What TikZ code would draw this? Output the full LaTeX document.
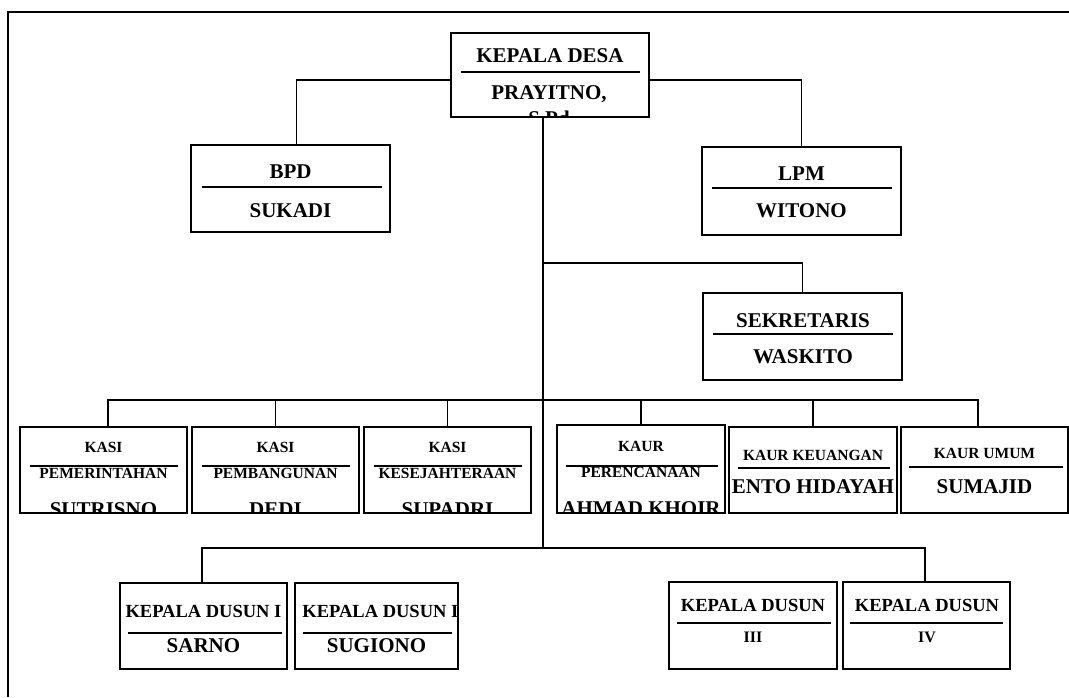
\documentclass[tikz,border=0pt]{standalone}
\usepackage{fontspec}
\setmainfont{Liberation Serif}
\usepackage{tikz}
\usetikzlibrary{calc,positioning}

\tikzset{
  bigbox/.style={draw,line width=2pt,fill=white,inner sep=0pt,outer sep=0pt},
  smallbox/.style={draw,line width=1.3pt,fill=white,inner sep=0pt,outer sep=0pt},
  conn/.style={line width=1.5pt},
  sepline/.style={line width=1.6pt},
  bigtext/.style={anchor=base,inner sep=0pt,font=\fontsize{21}{24}\selectfont\bfseries},
  kasitext/.style={anchor=base,inner sep=0pt,font=\fontsize{15.5}{18}\selectfont\bfseries},
  dusuntext/.style={anchor=base,inner sep=0pt,font=\fontsize{18.5}{22}\selectfont\bfseries},
  romtext/.style={anchor=base,inner sep=0pt,font=\fontsize{16}{19}\selectfont\bfseries}
}

\begin{document}
\begin{tikzpicture}[x=1pt,y=-1pt]
	\useasboundingbox (0,0) rectangle (1069,697);
	\draw[line width=2pt] (8,697) -- (8,12) -- (1069,12);

	\node[bigbox,minimum width=198pt,minimum height=84pt] (desa) at (550,75) {};
	\node[bigbox,minimum width=199pt,minimum height=87pt] (bpd) at (290.5,188.5) {};
	\node[bigbox,minimum width=199pt,minimum height=88pt] (lpm) at (801.5,191) {};
	\node[bigbox,minimum width=199pt,minimum height=87pt] (sek) at (802.5,336.5) {};

	\node[smallbox,minimum width=167pt,minimum height=86pt] (kasiA) at (103.5,470) {};
	\node[smallbox,minimum width=167pt,minimum height=86pt] (kasiB) at (275.5,470) {};
	\node[smallbox,minimum width=167pt,minimum height=86pt] (kasiC) at (447.5,470) {};
	\node[smallbox,minimum width=168pt,minimum height=88pt] (kaurA) at (641,469) {};
	\node[smallbox,minimum width=168pt,minimum height=86pt] (kaurB) at (813,470) {};
	\node[smallbox,minimum width=167pt,minimum height=86pt] (kaurC) at (984.5,470) {};

	\node[smallbox,minimum width=167pt,minimum height=86pt] (dusunA) at (203.5,626) {};
	\node[smallbox,minimum width=163pt,minimum height=86pt] (dusunB) at (376.5,626) {};
	\node[smallbox,minimum width=168pt,minimum height=87pt] (dusunC) at (753,625.5) {};
	\node[smallbox,minimum width=167pt,minimum height=87pt] (dusunD) at (926.5,625.5) {};

	\coordinate (hubtop) at (543,80);
	\coordinate (sekjoin) at (543,263);
	\coordinate (kasibar) at (543,400);
	\coordinate (trunkend) at (543,548);

	\draw[conn] ($(bpd.north)+(6,0)$) |- (desa.west |- hubtop);
	\draw[conn] (lpm.north) |- (desa.east |- hubtop);
	\draw[conn] (desa.south -| trunkend) -- (trunkend);
	\draw[conn] (sekjoin) -| (sek.north);
	\draw[conn] ($(kasiA.north)+(4.5,0)$) |- (kasibar) -| ($(kaurC.north)+(-6.5,0)$);
	\draw[conn] (kasiB.north) -- (kasiB.north |- kasibar);
	\draw[conn] (kasiC.north) -- (kasiC.north |- kasibar);
	\draw[conn] (kaurA.north) -- (kaurA.north |- kasibar);
	\draw[conn] (kaurB.north) -- (kaurB.north |- kasibar);
	\draw[conn] ($(dusunA.north)+(-1.5,0)$) |- (trunkend) -| ($(dusunD.north)+(-1.5,0)$);
	\draw[conn] ($(dusunB.north)+(-3.5,0)$) -- ($(dusunB.north)+(-3.5,0)$ |- trunkend);
	\draw[conn] ($(dusunC.north)+(-3,0)$) -- ($(dusunC.north)+(-3,0)$ |- trunkend);

	\node[bigtext] (desaT) at (550,62) {KEPALA DESA};
	\draw[sepline] (461,72) -- (640,72);
	\begin{scope}
		\clip (desa.south west) rectangle (desa.north east);
		\node[bigtext] (desaN) at (549,99) {PRAYITNO,};
		\node[bigtext] (desaG) at (549,125) {S.Pd};
	\end{scope}

	\node[bigtext] (bpdT) at (290.5,178) {BPD};
	\draw[sepline] (202,187) -- (382,187);
	\node[bigtext] (bpdN) at (290.5,217) {SUKADI};

	\node[bigtext] (lpmT) at (801.5,180) {LPM};
	\draw[sepline] (712,188) -- (892,188);
	\node[bigtext] (lpmN) at (801.5,217) {WITONO};

	\node[bigtext] (sekT) at (803,327) {SEKRETARIS};
	\draw[sepline] (713,334) -- (893,334);
	\node[bigtext] (sekN) at (803,363) {WASKITO};

	\node[kasitext] (kasiAT) at (103.5,452) {KASI};
	\draw[sepline] (30,466) -- (178,466);
	\node[kasitext] (kasiAS) at (103.5,478) {PEMERINTAHAN};
	\node[kasitext] (kasiBT) at (275.5,452) {KASI};
	\draw[sepline] (202,466) -- (350,466);
	\node[kasitext] (kasiBS) at (275.5,478) {PEMBANGUNAN};
	\node[kasitext] (kasiCT) at (447.5,452) {KASI};
	\draw[sepline] (374,466) -- (522,466);
	\node[kasitext] (kasiCS) at (447.5,478) {KESEJAHTERAAN};
	\node[kasitext] (kaurAT) at (641,451) {KAUR};
	\draw[sepline] (566,466) -- (718,466);
	\node[kasitext] (kaurAS) at (641,477) {PERENCANAAN};
	\node[kasitext] (kaurBT) at (813,460) {KAUR KEUANGAN};
	\draw[sepline] (738,468) -- (890,468);
	\node[bigtext] (kaurBN) at (813,493) {ENTO HIDAYAH};
	\node[kasitext] (kaurCT) at (984.5,458) {KAUR UMUM};
	\draw[sepline] (909,467) -- (1063,467);
	\node[bigtext] (kaurCN) at (984.5,493) {SUMAJID};
	\begin{scope}
		\clip (kasiA.south west) rectangle (kaurA.north east);
		\node[bigtext] (kasiAN) at (103.5,516) {SUTRISNO};
		\node[bigtext] (kasiBN) at (275.5,516) {DEDI};
		\node[bigtext] (kasiCN) at (447.5,516) {SUPADRI};
		\node[bigtext] (kaurAN) at (641,515) {AHMAD KHOIR};
	\end{scope}

	\node[dusuntext] (dusunAT) at (203.5,617) {KEPALA DUSUN I};
	\draw[sepline] (128,633) -- (282,633);
	\node[bigtext] (dusunAN) at (203.5,652) {SARNO};
	\begin{scope}
		\clip (dusunB.south west) rectangle (dusunB.north east);
		\node[dusuntext] (dusunBT) at (384,617) {KEPALA DUSUN II};
	\end{scope}
	\draw[sepline] (303,633) -- (452,633);
	\node[bigtext] (dusunBN) at (376.5,652) {SUGIONO};
	\node[dusuntext] (dusunCT) at (753,611) {KEPALA DUSUN};
	\draw[sepline] (677,623) -- (831,623);
	\node[romtext] (dusunCN) at (753,642) {III};
	\node[dusuntext] (dusunDT) at (927,611) {KEPALA DUSUN};
	\draw[sepline] (850,623) -- (1003,623);
	\node[romtext] (dusunDN) at (927,642) {IV};
\end{tikzpicture}
\end{document}
